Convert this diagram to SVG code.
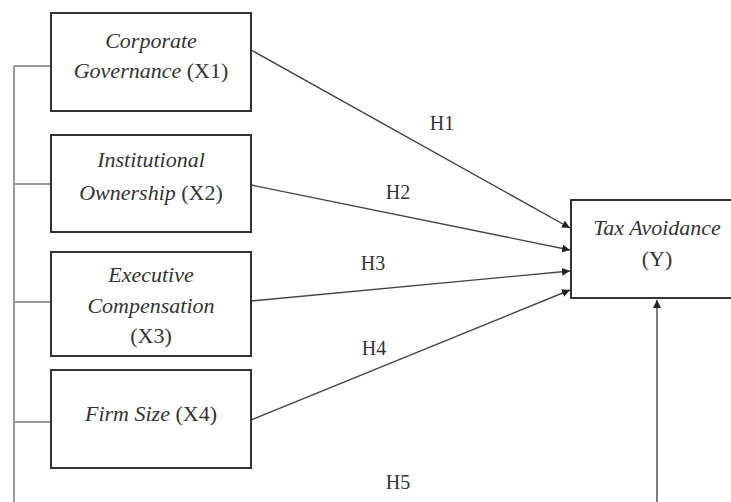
<svg xmlns="http://www.w3.org/2000/svg" width="731" height="502" viewBox="0 0 731 502">
<defs>
<style>
.box{fill:#fff;stroke:#333;stroke-width:2}
.t{font-family:"Liberation Serif","Times New Roman",serif;font-size:22px;fill:#333;text-anchor:middle}
.i{font-style:italic}
.c{stroke:#444;stroke-width:1.4;fill:none}
.b{stroke:#999;stroke-width:2;fill:none}
.h{font-family:"Liberation Serif","Times New Roman",serif;font-size:20px;fill:#333;text-anchor:middle}
</style>
<marker id="ah" viewBox="0 0 10 10" refX="10" refY="5" markerWidth="8" markerHeight="8" markerUnits="userSpaceOnUse" orient="auto">
<path d="M0,0 L10,5 L0,10 z" fill="#222"/>
</marker>
</defs>
<rect width="731" height="502" fill="#fff"/>
<g id="connectors">
<path class="b" d="M14,66 V502 M14,66 H50 M14,184 H50 M14,302 H50 M14,422 H50"/>
<line class="c" x1="251" y1="50" x2="570" y2="228" marker-end="url(#ah)"/>
<line class="c" x1="251" y1="185" x2="570" y2="250" marker-end="url(#ah)"/>
<line class="c" x1="251" y1="301" x2="570" y2="271" marker-end="url(#ah)"/>
<line class="c" x1="251" y1="420" x2="570" y2="290" marker-end="url(#ah)"/>
<line class="c" x1="657" y1="502" x2="657" y2="300" marker-end="url(#ah)"/>
<text class="h" x="442" y="130">H1</text>
<text class="h" x="398" y="199">H2</text>
<text class="h" x="373" y="270">H3</text>
<text class="h" x="374" y="355">H4</text>
<text class="h" x="398" y="489">H5</text>
</g>
<g id="x1">
<rect class="box" x="51" y="13" width="200" height="98"/>
<text class="t i" x="151" y="48">Corporate</text>
<text class="t" x="151" y="78"><tspan class="i">Governance</tspan> (X1)</text>
</g>
<g id="x2">
<rect class="box" x="51" y="135" width="200" height="97"/>
<text class="t i" x="151" y="167">Institutional</text>
<text class="t" x="151" y="200"><tspan class="i">Ownership</tspan> (X2)</text>
</g>
<g id="x3">
<rect class="box" x="51" y="252" width="200" height="104"/>
<text class="t i" x="151" y="282">Executive</text>
<text class="t i" x="151" y="313">Compensation</text>
<text class="t" x="151" y="343">(X3)</text>
</g>
<g id="x4">
<rect class="box" x="51" y="370" width="200" height="98"/>
<text class="t" x="151" y="421"><tspan class="i">Firm Size</tspan> (X4)</text>
</g>
<g id="y">
<rect class="box" x="571" y="200" width="172" height="98"/>
<text class="t i" x="657" y="235">Tax Avoidance</text>
<text class="t" x="657" y="266">(Y)</text>
</g>
</svg>
